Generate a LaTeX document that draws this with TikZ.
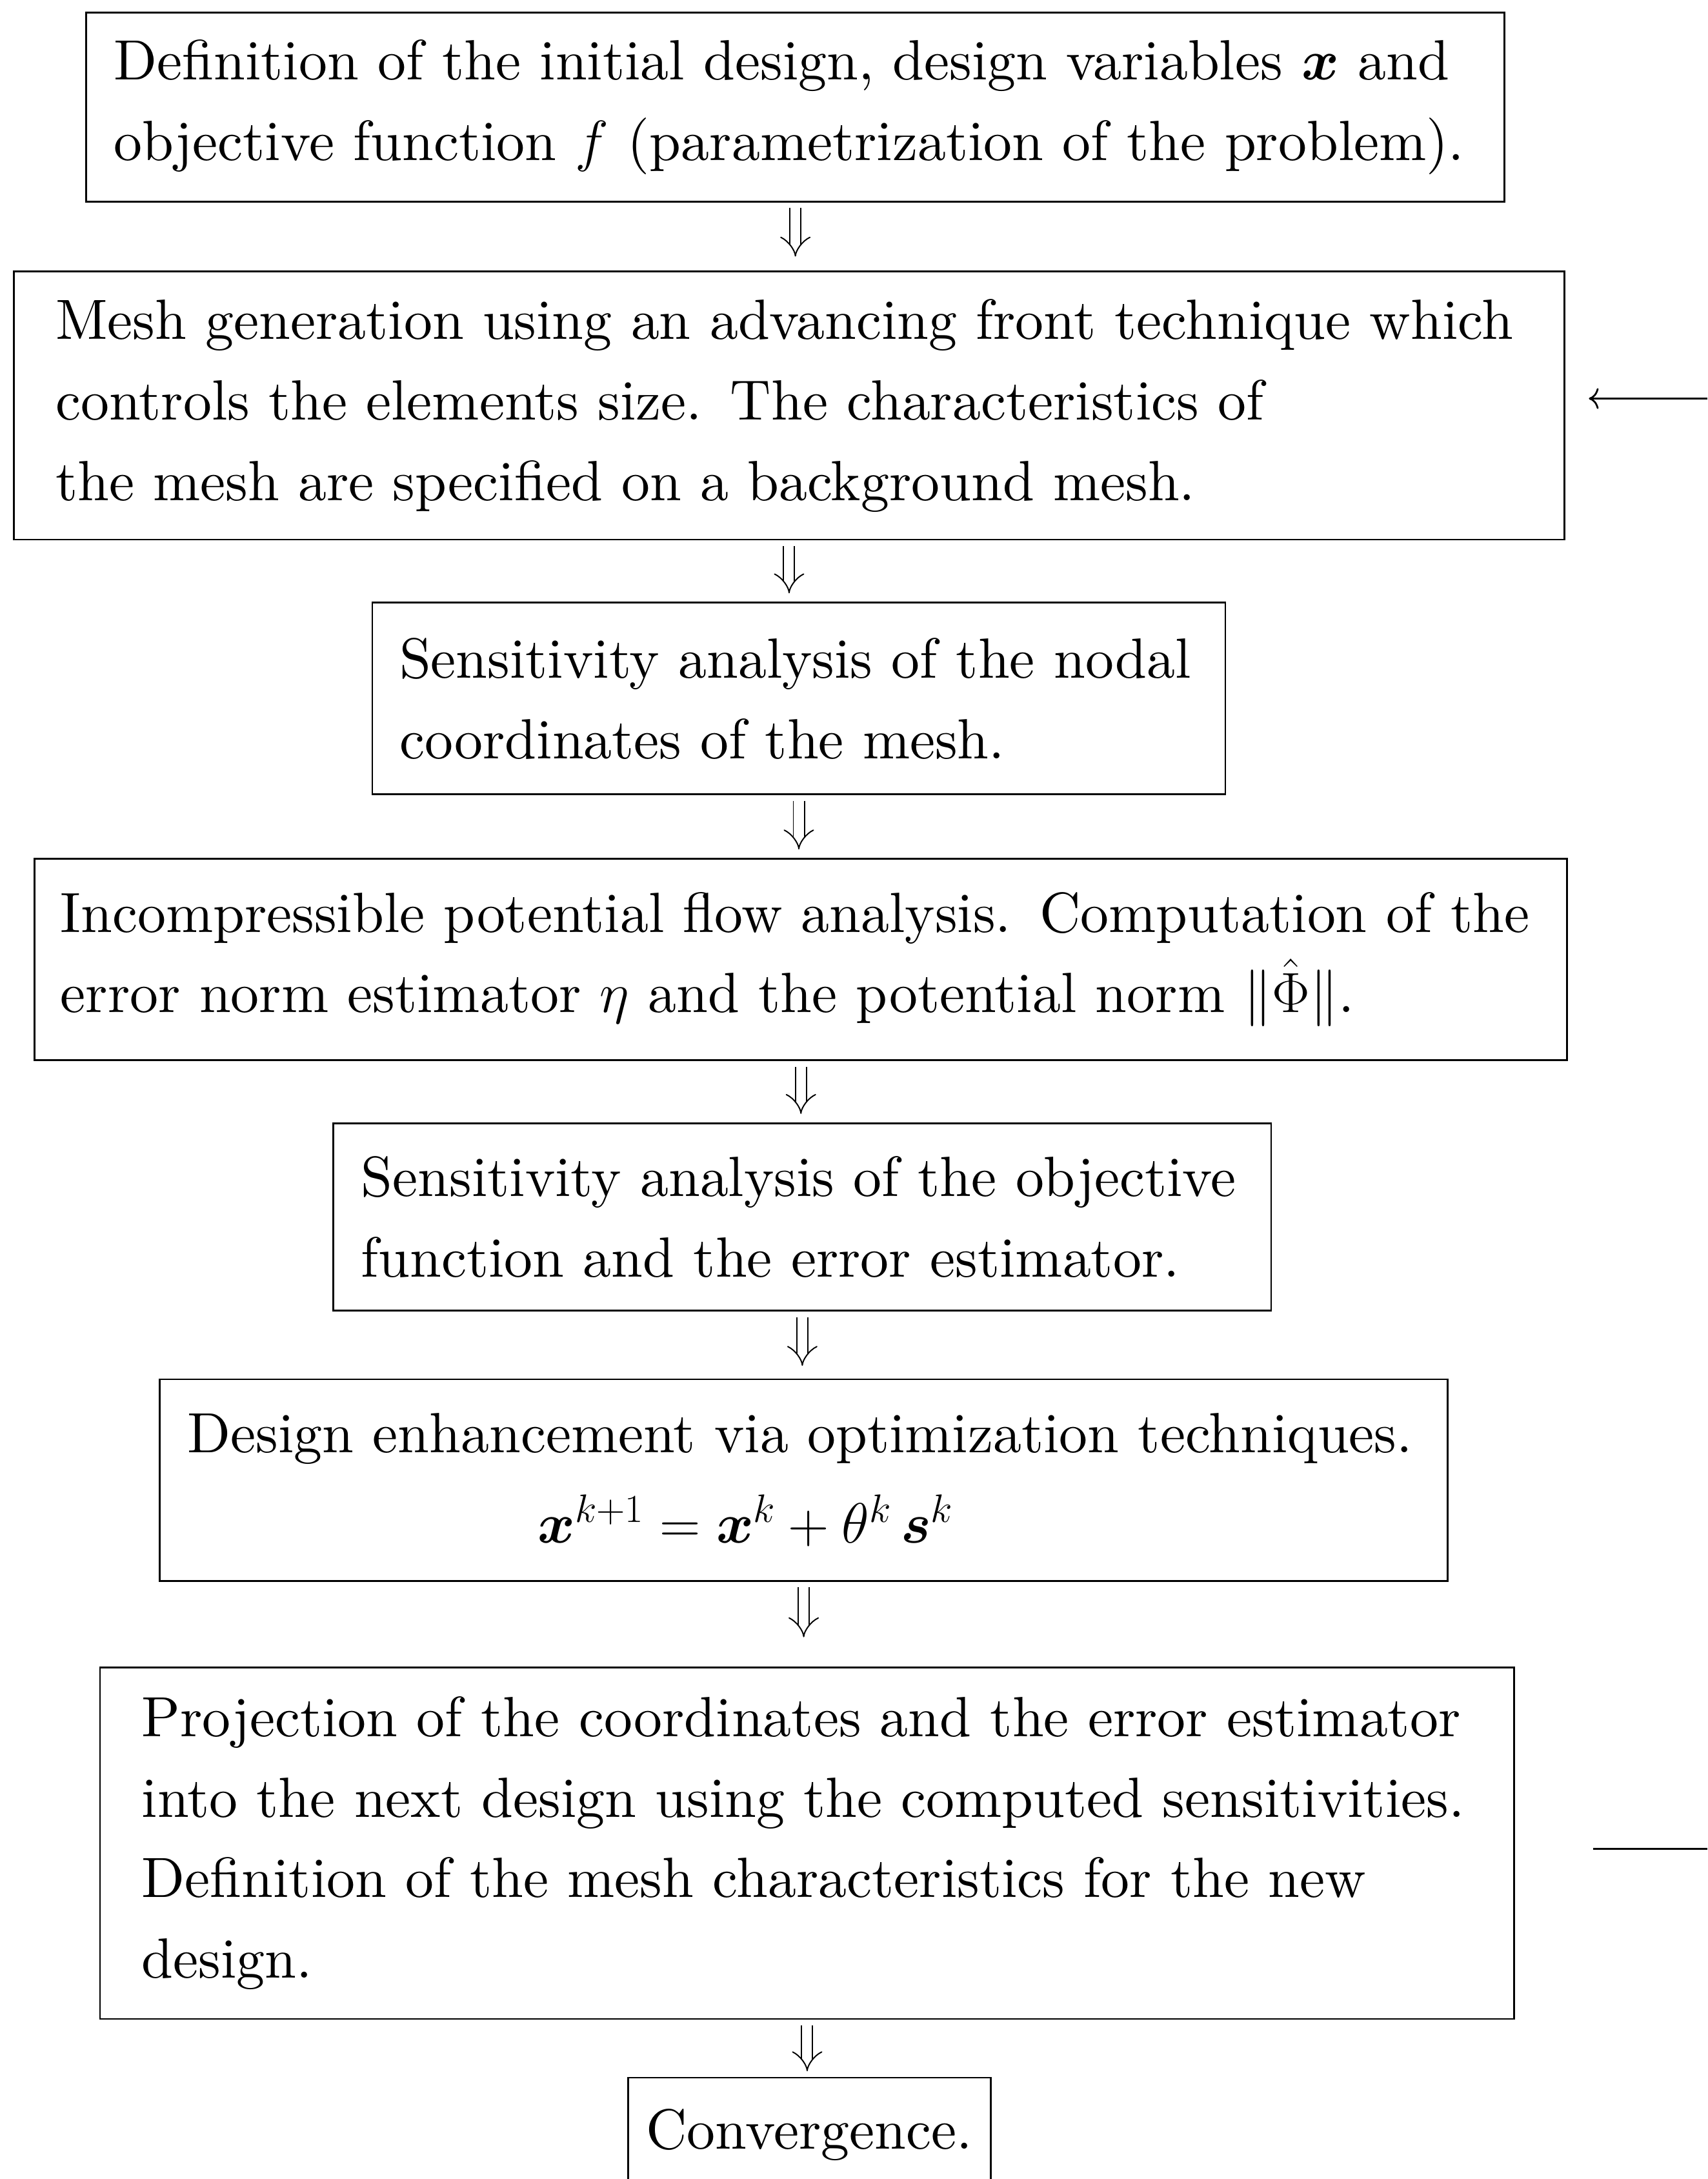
\RequirePackage{fix-cm}
\documentclass[tikz,border=0pt]{standalone}
\usepackage{amsmath}
\usepackage{bm}
\usepackage{tikz}
\usetikzlibrary{arrows.meta, positioning}
\DeclareFontFamily{TU}{lmten}{}
\DeclareFontShape{TU}{lmten}{m}{n}{<-> "[lmroman10-regular]:+tlig;"}{}

\begin{document}
\begin{tikzpicture}[
    x=1pt, y=1pt,
    font=\fontfamily{lmten}\fontsize{40.8}{58}\selectfont,
    stage/.style={draw, line width=1.3pt, align=left, inner xsep=20pt, inner ysep=0pt},
    flow/.style={double, double distance=7pt, line width=0.9pt, -{Implies}, shorten <=4pt},
    back/.style={line width=1.3pt}
]
    \useasboundingbox (0,0) rectangle (1229,-1568);
    \coordinate (rightedge) at (1229,0);

    \node[stage, text width=981pt, minimum height=136pt] (p1) at (572.5,-77)
        {Definition of the initial design, design variables $\bm{x}$ and\\
         objective function $f$ (parametrization of the problem).};
    \node[stage, inner xsep=30pt, text width=1056pt, minimum height=193pt, below=49pt of p1, xshift=-4.5pt] (p2)
        {Mesh generation using an advancing front technique which\\
         controls the elements size. The characteristics of\\
         the mesh are specified on a background mesh.};
    \node[stage, inner xsep=19.5pt, text width=575pt, minimum height=138pt, below=44pt of p2, xshift=7pt] (p3)
        {Sensitivity analysis of the nodal\\
         coordinates of the mesh.};
    \node[stage, inner xsep=18.5pt, text width=1066pt, minimum height=145pt, below=45pt of p3, xshift=1.5pt] (p4)
        {Incompressible potential flow analysis. Computation of the\\
         error norm estimator $\eta$ and the potential norm $\|\hat{\Phi}\|$.};
    \node[stage, text width=635pt, minimum height=135pt, below=44pt of p4, xshift=1pt] (p5)
        {Sensitivity analysis of the objective\\
         function and the error estimator.};
    \node[stage, text width=887pt, minimum height=145pt, below=48pt of p5, xshift=1pt] (p6)
        {Design enhancement via optimization techniques.\\[7pt]
         \hspace*{252pt}$\bm{x}^{k+1}=\bm{x}^k+\theta^k\,\bm{s}^k$};
    \node[stage, inner xsep=30pt, text width=958pt, minimum height=253pt, below=61pt of p6, xshift=2.5pt] (p7)
        {Projection of the coordinates and the error estimator\\
         into the next design using the computed sensitivities.\\
         Definition of the mesh characteristics for the new\\
         design.};
    \node[stage, inner xsep=13pt, minimum width=261pt, minimum height=82pt, below=41pt of p7, xshift=1.5pt] (p8)
        {Convergence.};

    \draw[flow, shorten >=10pt] (p1.south) -- (p1.south |- p2.north);
    \draw[flow, shorten >=6pt] (p2.south) -- (p2.south |- p3.north);
    \draw[flow, shorten >=6pt] (p3.south) -- (p3.south |- p4.north);
    \draw[flow, shorten >=6pt] (p4.south) -- (p4.south |- p5.north);
    \draw[flow, shorten >=9pt] (p5.south) -- (p5.south |- p6.north);
    \draw[flow, shorten >=21pt] (p6.south) -- (p6.south |- p7.north);
    \draw[flow, shorten >=4pt] (p7.south) -- (p7.south |- p8.north);

    % loop back to the mesh generation
    \coordinate (fbtop) at ([xshift=17pt, yshift=5pt]p2.east);
    \coordinate (fbbot) at ([xshift=56pt, yshift=-4pt]p7.east);
    \draw[back, -{To[length=7pt, width=15pt]}] (fbtop -| rightedge) -- (fbtop);
    \draw[back] (fbbot) -- (fbbot -| rightedge);
\end{tikzpicture}
\end{document}
